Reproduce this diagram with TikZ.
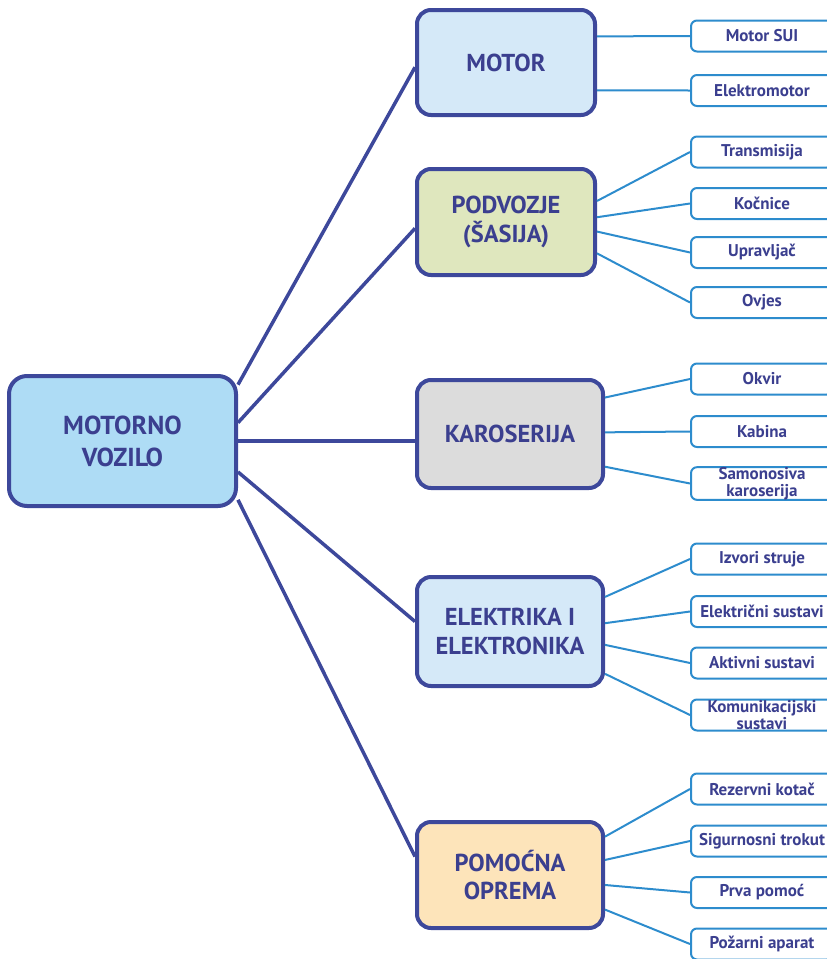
\documentclass[tikz,border=0pt]{standalone}
\usepackage{fontspec}
\setmainfont{PT Sans}
\usetikzlibrary{calc}

\definecolor{tamnoplava}{RGB}{61,72,155}
\definecolor{tekst}{RGB}{59,63,143}
\definecolor{svijetloplava}{RGB}{45,140,205}
\definecolor{korijenfill}{RGB}{174,220,245}
\definecolor{plavafill}{RGB}{213,233,248}
\definecolor{zelenafill}{RGB}{223,231,190}
\definecolor{sivafill}{RGB}{220,220,220}
\definecolor{narancfill}{RGB}{253,228,186}

\tikzset{
  korijen/.style={draw=tamnoplava, line width=4pt, rounded corners=18pt, fill=korijenfill,
    minimum width=227pt, minimum height=130pt, align=center, text=tekst,
    font=\bfseries\fontsize{26}{32}\selectfont},
  grupa/.style={draw=tamnoplava, line width=4pt, rounded corners=14pt, align=center, text=tekst,
    inner sep=0pt, font=\bfseries\fontsize{24.5}{28.5}\selectfont},
  dio/.style={draw=svijetloplava, line width=2pt, rounded corners=6pt, fill=white,
    minimum width=142pt, minimum height=31pt, align=center, text=tekst, inner sep=0pt,
    font=\bfseries\fontsize{17}{17}\selectfont},
  veza/.style={draw=tamnoplava, line width=3.5pt},
  grana/.style={draw=svijetloplava, line width=2pt}
}

\begin{document}
\begin{tikzpicture}[x=1pt,y=-1pt]
  \useasboundingbox (0,0) rectangle (827,959);

  \node[korijen] (vozilo) at (122.5,441) {MOTORNO\\VOZILO};

  \node[grupa, fill=plavafill, minimum width=178pt, minimum height=105pt] (motor) at (506,62.5) {MOTOR};
  \node[grupa, fill=zelenafill, minimum width=178pt, minimum height=106pt] (podvozje) at (506,222) {PODVOZJE\\(ŠASIJA)};
  \node[grupa, fill=sivafill, minimum width=186pt, minimum height=108pt] (karoserija) at (510,434) {KAROSERIJA};
  \node[grupa, fill=plavafill, minimum width=186pt, minimum height=109pt] (elektrika) at (510,631.5) {ELEKTRIKA I\\ELEKTRONIKA};
  \node[grupa, fill=narancfill, minimum width=186pt, minimum height=106pt] (oprema) at (510,875) {POMOĆNA\\OPREMA};

  \draw[veza] (vozilo.26.3) -- (motor.183.5);
  \draw[veza] (vozilo.9) -- (podvozje.184.5);
  \draw[veza] (vozilo.east) -- (vozilo.east -| karoserija.west);
  \draw[veza] (vozilo.-15.8) -- (elektrika.174.5);
  \draw[veza] (vozilo.-27.5) -- (oprema.169);

  \foreach \ime/\y/\tekst in {sui/36/{Motor SUI}, elmotor/90.5/Elektromotor,
      transmisija/152/Transmisija, kocnice/203.5/Kočnice, upravljac/252.5/Upravljač, ovjes/302.5/Ovjes,
      okvir/379/Okvir, kabina/431.5/Kabina, samonosiva/483.5/{Samonosiva\\karoserija},
      izvori/559/{Izvori struje}, elsustavi/611.5/{Električni sustavi}, aktivni/663/{Aktivni sustavi},
      komunikacija/715/{Komunikacijski\\sustavi},
      kotac/789/{Rezervni kotač}, trokut/841/{Sigurnosni trokut}, pomoc/892.5/{Prva pomoć},
      aparat/944/{Požarni aparat}}
    \node[dio] (\ime) at (762,\y) {\tekst};

  \foreach \od/\kut/\do in {motor/16.6/sui, motor/-17.2/elmotor,
      podvozje/13.9/transmisija, podvozje/3.2/kocnice, podvozje/-6.4/upravljac, podvozje/-19.2/ovjes,
      karoserija/21.2/okvir, karoserija/1.8/kabina, karoserija/-19.5/samonosiva,
      elektrika/20.4/izvori, elektrika/5.8/elsustavi, elektrika/-8.3/aktivni, elektrika/-24/komunikacija,
      oprema/22.2/kotac, oprema/9.2/trokut, oprema/-6.1/pomoc, oprema/-20.6/aparat}
    \draw[grana] (\od.\kut) -- (\do.west);

\end{tikzpicture}
\end{document}
